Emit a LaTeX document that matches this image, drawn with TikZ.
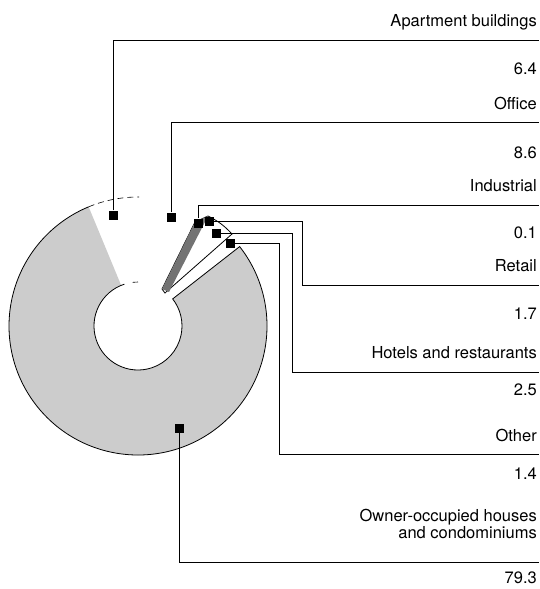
\documentclass[tikz,border=0pt]{standalone}
\usepackage{fontspec}
\setmainfont{TeX Gyre Heros}
\usetikzlibrary{positioning}

\tikzset{
    marker/.style={fill=black, inner sep=0pt, minimum size=9pt},
    leader/.style={black, line width=0.8pt},
    legend/.style={anchor=base east, inner sep=0pt, font=\fontsize{16.5}{17}\selectfont}
}

\begin{document}
\begin{tikzpicture}[x=1pt, y=-1pt]
    \useasboundingbox (0,0) rectangle (539,589);

    \begin{scope}[shift={(138,326)}, yscale=-1]
        \fill[black!20] (38:44) -- (38:129) arc[start angle=38, end angle=-247.5, radius=129]
            -- (-247.5:44) arc[start angle=-247.5, end angle=38, radius=44] -- cycle;
        \draw[line width=0.8pt] (-252:44) arc[start angle=-252, end angle=38, radius=44]
            -- (38:129) arc[start angle=38, end angle=-247.5, radius=129];
        \draw[line width=0.6pt, dash pattern=on 6pt off 4pt] (112.5:129) arc[start angle=112.5, end angle=89.5, radius=129];
        \draw[line width=0.6pt] (90:44) arc[start angle=90, end angle=97, radius=44];
    \end{scope}

    \filldraw[fill=white, line width=0.8pt] (162,289) -- (195,222) -- (208,216)
        to[bend left=10] (232,234) -- (165,293) -- cycle;
    \fill[black!55] (162,289) -- (195,222) -- (208,216) -- (169,292) -- cycle;

    \node[marker] (apt) at (113,215) {};
    \node[marker] (off) at (171,217) {};
    \node[marker] (ind) at (198,223) {};
    \node[marker] (ret) at (209,221) {};
    \node[marker] (hot) at (216,233) {};
    \node[marker] (oth) at (230,243) {};
    \node[marker] (own) at (179,428) {};

    \coordinate (aptE) at (539,40);
    \coordinate (offE) at (539,122);
    \coordinate (indE) at (539,205);
    \coordinate (retE) at (539,285);
    \coordinate (hotE) at (539,372);
    \coordinate (othE) at (539,454);
    \coordinate (ownE) at (539,562);

    \draw[leader] (apt) |- (aptE);
    \draw[leader] (off) |- (offE);
    \draw[leader] (ind) |- (indE);
    \draw[leader] (ret) -| (302,285) -- (retE);
    \draw[leader] (hot) -| (292,372) -- (hotE);
    \draw[leader] (oth) -| (279,454) -- (othE);
    \draw[leader] (own) |- (ownE);

    \foreach \n/\txt/\ty/\val/\vy in {
            apt/Apartment buildings/27/6.4/74,
            off/Office/109/8.6/158,
            ind/Industrial/191/0.1/238,
            ret/Retail/271/1.7/319,
            hot/Hotels and restaurants/358/2.5/395,
            oth/Other/441/1.4/479} {
        \node[legend] (lab-\n) at (537,\ty) {\txt};
        \node[legend] (val-\n) at (537,\vy) {\val};
    }

    \node[legend, align=right] (lab-own) at (537,538) {Owner-occupied houses\\and condominiums};
    \node[legend] (val-own) at (537,583) {79.3};
\end{tikzpicture}
\end{document}
